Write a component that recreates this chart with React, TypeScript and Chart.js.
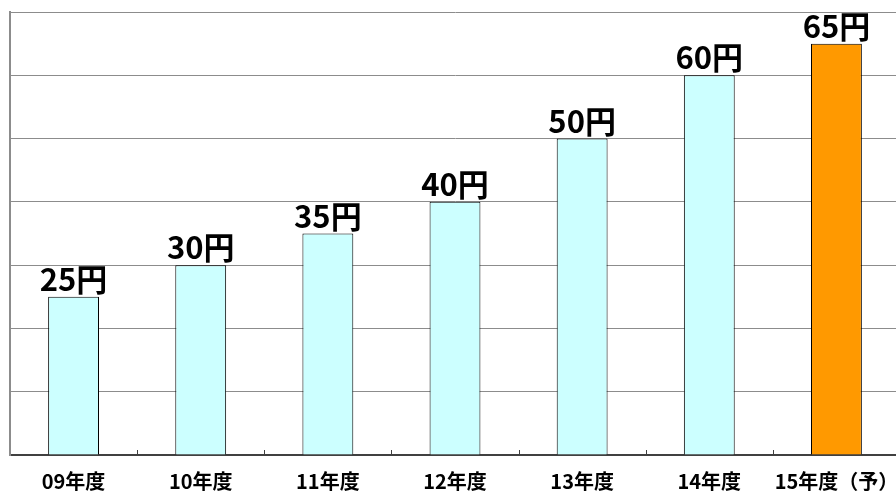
import React, { useEffect, useRef } from "react";
import { Chart, registerables } from "chart.js";

Chart.register(...registerables);

const categories = ["09年度", "10年度", "11年度", "12年度", "13年度", "14年度", "15年度（予）"];
const dividends = [25, 30, 35, 40, 50, 60, 65];
const barColors = ["#CCFFFF", "#CCFFFF", "#CCFFFF", "#CCFFFF", "#CCFFFF", "#CCFFFF", "#FF9900"];
const unit = "円";
const yMax = 70;
const yStep = 10;

const FONT = "'Noto Sans CJK JP', 'DejaVu Sans', sans-serif";

const labelPlugin = {
  id: "valueLabels",
  afterDatasetsDraw(chart: any) {
    const ctx = chart.ctx;
    const meta = chart.getDatasetMeta(0);
    ctx.save();
    ctx.fillStyle = "#000";
    ctx.font = `bold 31px ${FONT}`;
    ctx.textAlign = "center";
    ctx.textBaseline = "alphabetic";
    meta.data.forEach((bar: any, i: number) => {
      ctx.fillText(`${dividends[i]}${unit}`, bar.x, bar.y - 6);
    });
    ctx.restore();
  },
};

const innerTicksPlugin = {
  id: "innerTicks",
  afterDraw(chart: any) {
    const ctx = chart.ctx;
    const xs = chart.scales.x;
    const bottom = chart.chartArea.bottom;
    ctx.save();
    ctx.strokeStyle = "#404040";
    ctx.lineWidth = 1;
    for (let i = 0; i < categories.length - 1; i++) {
      const px = Math.round((xs.getPixelForTick(i) + xs.getPixelForTick(i + 1)) / 2) + 0.5;
      ctx.beginPath();
      ctx.moveTo(px, bottom - 5);
      ctx.lineTo(px, bottom);
      ctx.stroke();
    }
    ctx.restore();
  },
};

export default function App() {
  const ref = useRef<HTMLCanvasElement>(null);
  useEffect(() => {
    if (!ref.current) return;
    const chart = new Chart(ref.current, {
      type: "bar",
      data: {
        labels: categories,
        datasets: [
          {
            data: dividends,
            backgroundColor: barColors,
            borderColor: "#000",
            borderWidth: 1,
            categoryPercentage: 1,
            barPercentage: 0.4,
          },
        ],
      },
      options: {
        animation: false,
        responsive: false,
        maintainAspectRatio: false,
        layout: { padding: { left: 10, top: 12, right: 0, bottom: 0 } },
        plugins: { legend: { display: false }, tooltip: { enabled: false } },
        scales: {
          x: {
            offset: true,
            afterFit: (scale: any) => {
              scale.paddingLeft = 0;
              scale.paddingRight = 0;
            },
            grid: { display: true, drawOnChartArea: false, drawTicks: false },
            border: { display: true, color: "#404040", width: 2 },
            ticks: {
              color: "#000",
              padding: 16,
              font: { family: FONT, size: 20, weight: "bold", lineHeight: 1 },
              maxRotation: 0,
              autoSkip: false,
            },
          },
          y: {
            min: 0,
            max: yMax,
            ticks: { display: false, stepSize: yStep },
            grid: { color: "#8c8c8c", lineWidth: 1, drawTicks: false },
            border: { display: true, color: "#8c8c8c", width: 2 },
          },
        },
      },
      plugins: [labelPlugin, innerTicksPlugin],
    });
    return () => chart.destroy();
  }, []);
  return (
    <div style={{ position: "absolute", left: 0, top: 0, width: 896, height: 493, overflow: "hidden", background: "#fff" }}>
      <canvas ref={ref} width={900} height={507} style={{ display: "block" }} />
    </div>
  );
}
